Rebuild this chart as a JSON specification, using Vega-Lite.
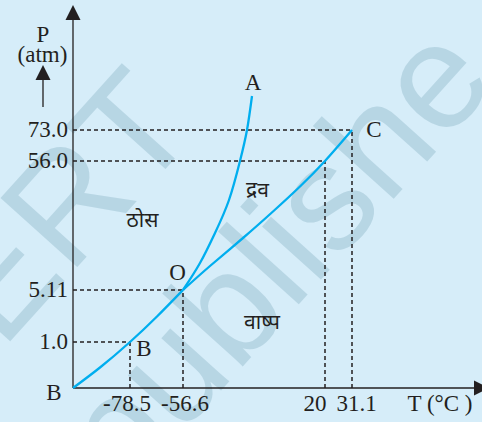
{
  "$schema": "https://vega.github.io/schema/vega-lite/v6.json",
  "width": 482,
  "height": 422,
  "autosize": {"type": "none"},
  "padding": 0,
  "background": "#d6edf9",
  "config": {"view": {"stroke": null}},
  "datasets": {
    "watermark": [
      {"t": "ERT", "x": -5, "y": 178},
      {"t": "publishe", "x": 205, "y": 128}
    ],
    "dashes": [
      {"x": 0, "y": 258, "x2": 279, "y2": 258},
      {"x": 279, "y": 0, "x2": 279, "y2": 258},
      {"x": 0, "y": 227, "x2": 252, "y2": 227},
      {"x": 252, "y": 0, "x2": 252, "y2": 227},
      {"x": 0, "y": 98, "x2": 110, "y2": 98},
      {"x": 110, "y": 0, "x2": 110, "y2": 98},
      {"x": 0, "y": 46, "x2": 57, "y2": 46},
      {"x": 57, "y": 0, "x2": 57, "y2": 46}
    ],
    "axes": [
      {"x": 0, "y": 0, "x2": 0, "y2": 370},
      {"x": 0, "y": 0, "x2": 402, "y2": 0},
      {"x": -30, "y": 281, "x2": -30, "y2": 310}
    ],
    "arrows": [
      {"x": 0, "y": 375.5, "dir": "up"},
      {"x": -30, "y": 315.5, "dir": "up"},
      {"x": 408.5, "y": 0, "dir": "right"}
    ],
    "curves": [
      {"c": "BO", "i": 0, "x": 0, "y": 0},
      {"c": "BO", "i": 1, "x": 27, "y": 20.5},
      {"c": "BO", "i": 2, "x": 57, "y": 46},
      {"c": "BO", "i": 3, "x": 84, "y": 71.5},
      {"c": "BO", "i": 4, "x": 110, "y": 98},
      {"c": "OA", "i": 0, "x": 110, "y": 98},
      {"c": "OA", "i": 1, "x": 127, "y": 125},
      {"c": "OA", "i": 2, "x": 142, "y": 155},
      {"c": "OA", "i": 3, "x": 156, "y": 188},
      {"c": "OA", "i": 4, "x": 167, "y": 227},
      {"c": "OA", "i": 5, "x": 174, "y": 258},
      {"c": "OA", "i": 6, "x": 179, "y": 292},
      {"c": "OC", "i": 0, "x": 110, "y": 98},
      {"c": "OC", "i": 1, "x": 137, "y": 122},
      {"c": "OC", "i": 2, "x": 170, "y": 150},
      {"c": "OC", "i": 3, "x": 200, "y": 176.5},
      {"c": "OC", "i": 4, "x": 227, "y": 201.5},
      {"c": "OC", "i": 5, "x": 252, "y": 227},
      {"c": "OC", "i": 6, "x": 279, "y": 258}
    ],
    "labels": [
      {"t": "P", "x": -30, "y": 353.5},
      {"t": "(atm)", "x": -30.5, "y": 333},
      {"t": "-78.5", "x": 54, "y": -16},
      {"t": "-56.6", "x": 112, "y": -16},
      {"t": "20", "x": 242, "y": -16},
      {"t": "31.1", "x": 283.7, "y": -16},
      {"t": "T (°C )", "x": 367, "y": -16},
      {"t": "B", "x": -19, "y": -5},
      {"t": "B", "x": 71, "y": 39},
      {"t": "O", "x": 104.5, "y": 115},
      {"t": "A", "x": 180, "y": 305.5},
      {"t": "C", "x": 301, "y": 258.5}
    ],
    "ticks": [
      {"t": "73.0", "x": -5, "y": 258},
      {"t": "56.0", "x": -5, "y": 227},
      {"t": "5.11", "x": -5, "y": 98},
      {"t": "1.0", "x": -5, "y": 46}
    ],
    "hindi": [
      {"t": "ठोस", "x": 69.5, "y": 167},
      {"t": "द्रव", "x": 184.5, "y": 197},
      {"t": "वाष्प", "x": 189, "y": 65}
    ]
  },
  "layer": [
    {
      "data": {"name": "watermark"},
      "mark": {"type": "text", "font": "Liberation Sans", "fontSize": 150, "angle": -48, "align": "center", "baseline": "middle", "color": "#9fc4d4", "opacity": 0.55},
      "encoding": {
        "x": {"field": "x", "type": "quantitative", "scale": {"domain": [-73, 409], "nice": false, "zero": false}, "axis": null},
        "y": {"field": "y", "type": "quantitative", "scale": {"domain": [-34, 388], "nice": false, "zero": false}, "axis": null},
        "text": {"field": "t"}
      }
    },
    {
      "data": {"name": "dashes"},
      "mark": {"type": "rule", "color": "#231f20", "strokeWidth": 1.5, "strokeDash": [4, 3]},
      "encoding": {
        "x": {"field": "x", "type": "quantitative"},
        "y": {"field": "y", "type": "quantitative"},
        "x2": {"field": "x2"},
        "y2": {"field": "y2"}
      }
    },
    {
      "data": {"name": "axes"},
      "mark": {"type": "rule", "color": "#231f20", "strokeWidth": 1.3},
      "encoding": {
        "x": {"field": "x", "type": "quantitative"},
        "y": {"field": "y", "type": "quantitative"},
        "x2": {"field": "x2"},
        "y2": {"field": "y2"}
      }
    },
    {
      "data": {"name": "curves"},
      "mark": {"type": "line", "color": "#00aeef", "strokeWidth": 2.3, "interpolate": "natural"},
      "encoding": {
        "x": {"field": "x", "type": "quantitative"},
        "y": {"field": "y", "type": "quantitative"},
        "detail": {"field": "c"},
        "order": {"field": "i", "type": "quantitative"}
      }
    },
    {
      "data": {"name": "arrows"},
      "transform": [{"filter": "datum.dir == 'up'"}],
      "mark": {"type": "point", "shape": "M0,-1L1,1L-1,1Z", "size": 225, "filled": true, "opacity": 1, "color": "#231f20"},
      "encoding": {
        "x": {"field": "x", "type": "quantitative"},
        "y": {"field": "y", "type": "quantitative"}
      }
    },
    {
      "data": {"name": "arrows"},
      "transform": [{"filter": "datum.dir == 'right'"}],
      "mark": {"type": "point", "shape": "M1,0L-1,-1L-1,1Z", "size": 225, "filled": true, "opacity": 1, "color": "#231f20"},
      "encoding": {
        "x": {"field": "x", "type": "quantitative"},
        "y": {"field": "y", "type": "quantitative"}
      }
    },
    {
      "data": {"name": "labels"},
      "mark": {"type": "text", "font": "Liberation Serif", "fontSize": 23, "align": "center", "baseline": "middle", "color": "#231f20"},
      "encoding": {
        "x": {"field": "x", "type": "quantitative"},
        "y": {"field": "y", "type": "quantitative"},
        "text": {"field": "t"}
      }
    },
    {
      "data": {"name": "ticks"},
      "mark": {"type": "text", "font": "Liberation Serif", "fontSize": 23, "align": "right", "baseline": "middle", "color": "#231f20"},
      "encoding": {
        "x": {"field": "x", "type": "quantitative"},
        "y": {"field": "y", "type": "quantitative"},
        "text": {"field": "t"}
      }
    },
    {
      "data": {"name": "hindi"},
      "mark": {"type": "text", "font": "Noto Sans", "fontSize": 21, "align": "center", "baseline": "middle", "color": "#231f20"},
      "encoding": {
        "x": {"field": "x", "type": "quantitative"},
        "y": {"field": "y", "type": "quantitative"},
        "text": {"field": "t"}
      }
    }
  ]
}
